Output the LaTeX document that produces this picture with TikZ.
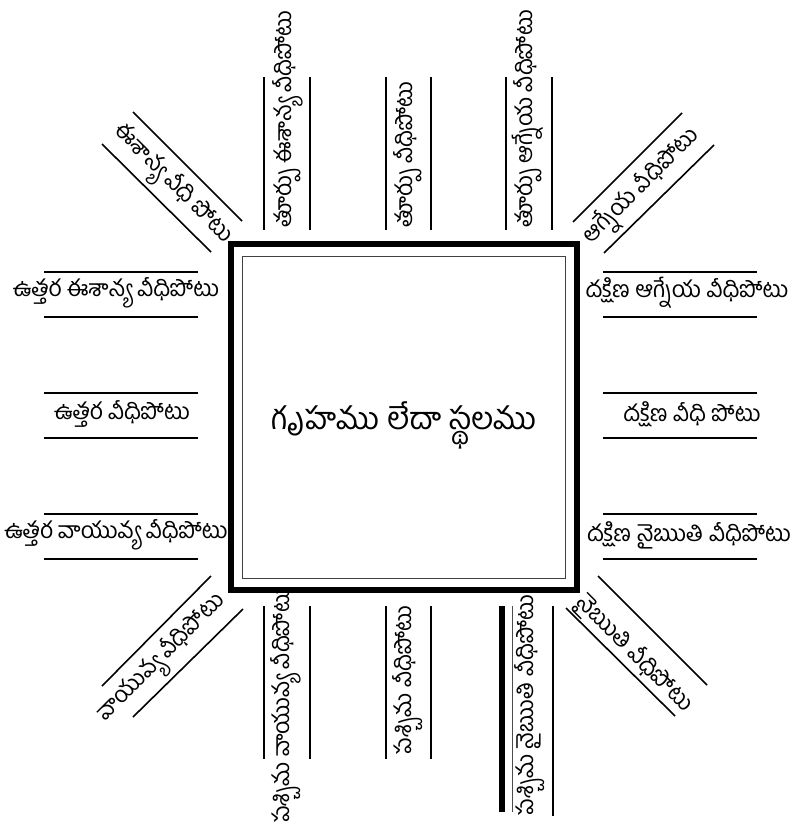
\documentclass[tikz,border=0pt]{standalone}
\usepackage{fontspec}
\newfontfamily\telugu[Script=Telugu]{Hind Guntur}
\tikzset{
  road/.style={line width=1.6pt},
  lbl/.style={font=\telugu\fontsize{23}{24}\selectfont, inner sep=0pt},
  mainlbl/.style={font=\telugu\fontsize{31}{33}\selectfont, inner sep=0pt}
}
\begin{document}
\begin{tikzpicture}[x=1pt,y=-1pt]
\useasboundingbox (0,0) rectangle (799,827);
% house
\draw[line width=6pt] (231,244) rectangle (577,590);
\draw[line width=0.8pt,black!75] (242,256) rectangle (565,578);
\node[mainlbl] (house) at (404,425) {గృహము లేదా స్థలము};
% north side (left)
\foreach \ya/\yb in {272/317,393/438,514/559}
  \draw[road] (44,\ya) -- (198,\ya) (44,\yb) -- (198,\yb);
\node[lbl] (uEsh) at (116,293) {ఉత్తర ఈశాన్య వీధిపోటు};
\node[lbl] (uMid) at (122,414) {ఉత్తర వీధిపోటు};
\node[lbl] (uVay) at (116,535) {ఉత్తర వాయువ్య వీధిపోటు};
% south side (right)
\foreach \ya/\yb in {272/317,393/438,514/559}
  \draw[road] (603,\ya) -- (757,\ya) (603,\yb) -- (757,\yb);
\node[lbl] (dAgn) at (687,293) {దక్షిణ ఆగ్నేయ వీధిపోటు};
\node[lbl] (dMid) at (692,414) {దక్షిణ వీధి పోటు};
\node[lbl] (dNai) at (689,535) {దక్షిణ నైఋతి వీధిపోటు};
% east side (top)
\foreach \xa/\xb in {264/310,386/431,506/552}
  \draw[road] (\xa,77) -- (\xa,230) (\xb,77) -- (\xb,230);
\node[lbl,rotate=90,anchor=west] (tEsh) at (288,228) {తూర్పు ఈశాన్య వీధిపోటు};
\node[lbl,rotate=90,anchor=west] (tMid) at (408,228) {తూర్పు వీధిపోటు};
\node[lbl,rotate=90,anchor=west] (tAgn) at (528,228) {తూర్పు ఆగ్నేయ వీధిపోటు};
% west side (bottom)
\draw[road] (264,606) -- (264,759) (310,606) -- (310,759);
\draw[road] (386,606) -- (386,759) (431,606) -- (431,759);
\draw[line width=6pt] (502,606) -- (502,812);
\draw[line width=0.9pt,black!70] (512,606) -- (512,812);
\draw[road] (553,606) -- (553,816);
\node[lbl,rotate=90] (pVay) at (286,705) {పశ్చిమ వాయువ్య వీధిపోటు};
\node[lbl,rotate=90] (pMid) at (408,680) {పశ్చిమ వీధిపోటు};
\node[lbl,rotate=90] (pNai) at (530,705) {పశ్చిమ నైఋతి వీధిపోటు};
% corners
\draw[road] (133,112) -- (242,221) (102,144) -- (211,252);
\node[lbl,rotate=-45] (cEsh) at (172,185) {ఈశాన్య వీధి పోటు};
\draw[road] (573,222) -- (682,113) (604,253) -- (714,145);
\node[lbl,rotate=45] (cAgn) at (642,187) {ఆగ్నేయ వీధిపోటు};
\draw[road] (211,576) -- (102,686) (243,609) -- (133,717);
\node[lbl,rotate=45] (cVay) at (163,659) {వాయువ్య వీధిపోటు};
\draw[road] (598,576) -- (707,685) (566,608) -- (675,716);
\node[lbl,rotate=-45] (cNai) at (634,654) {నైఋతి వీధిపోటు};
\end{tikzpicture}
\end{document}
